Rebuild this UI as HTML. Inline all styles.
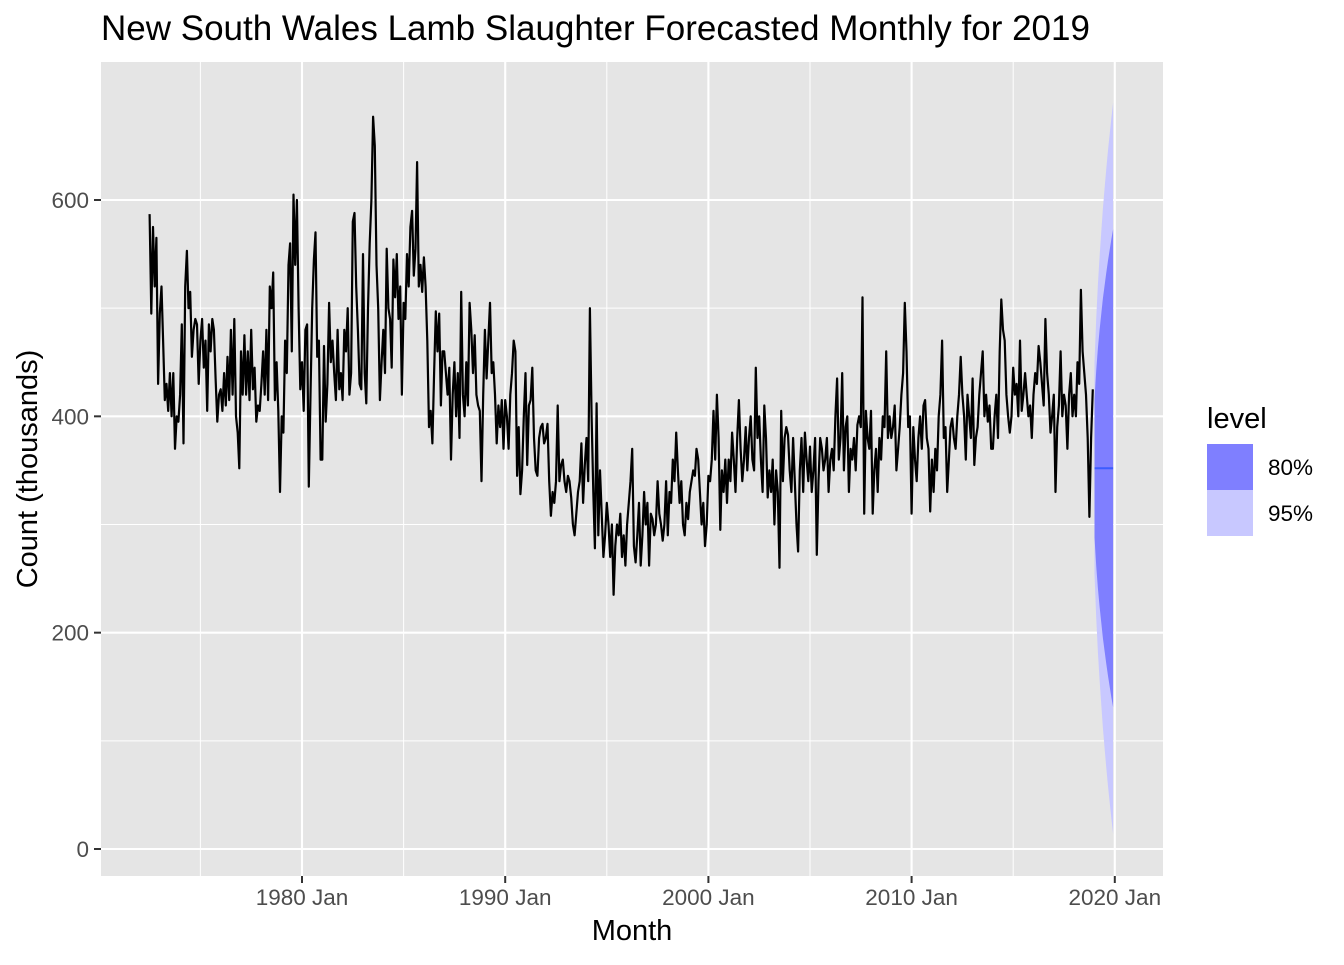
<!DOCTYPE html>
<html><head><meta charset="utf-8"><style>
body{margin:0;background:#fff;}
svg text{font-family:"Liberation Sans",Arial,sans-serif;}
</style></head><body>
<svg id="chart" width="1344" height="960" xmlns="http://www.w3.org/2000/svg">
<text x="101" y="40" font-size="35" fill="#000">New South Wales Lamb Slaughter Forecasted Monthly for 2019</text>
<rect x="101" y="62" width="1062" height="814" fill="#e5e5e5"/>
<g id="grid"></g><g id="bands"></g><g id="series"></g><g id="axes"></g>
<text x="632" y="940" font-size="29" text-anchor="middle" fill="#000">Month</text>
<text transform="translate(37,469) rotate(-90)" font-size="29" text-anchor="middle" fill="#000">Count (thousands)</text>
<g>
<text x="1207" y="428" font-size="29" fill="#000">level</text>
<rect x="1207" y="444" width="46" height="46" fill="#7f7fff"/>
<rect x="1207" y="490" width="46" height="46" fill="#c8c8ff"/>
<text x="1268" y="475" font-size="22.5" fill="#000">80%</text>
<text x="1268" y="521" font-size="22.5" fill="#000">95%</text>
</g>
</svg>
<script>
const startYear = 1972, startMonth = 6;
const counts = [
587,495,575,520,565,430,
495,520,470,415,430,405,440,400,440,370,400,395,
420,485,375,520,553,500,515,455,480,490,485,430,
470,490,445,470,405,485,460,490,480,435,395,420,
425,405,440,410,455,415,480,420,490,400,385,352,
460,420,475,420,460,415,480,425,445,395,410,405,
430,460,420,480,415,520,500,533,415,450,405,330,
400,385,470,440,540,560,460,605,540,600,500,425,
450,405,480,485,335,420,500,545,570,455,470,360,
360,465,395,430,505,450,470,440,415,480,425,440,
415,480,460,500,420,440,580,588,520,480,430,425,
550,440,412,500,560,600,677,650,540,500,415,450,
480,440,555,500,490,445,545,510,550,490,520,420,
505,490,550,520,575,590,530,555,635,520,540,515,
547,520,470,390,405,375,440,497,460,495,410,460,
460,440,420,445,360,420,450,400,440,380,515,420,
400,450,410,505,480,440,475,420,410,405,340,420,
480,435,470,505,440,450,420,375,410,390,415,370,
415,400,370,420,440,470,460,345,390,328,350,400,
440,355,410,415,445,380,350,345,380,390,393,375,
380,393,340,308,330,320,340,410,340,355,360,340,
330,345,340,325,300,290,310,330,340,375,320,355,
380,340,500,400,330,278,412,290,350,310,270,290,
320,300,270,300,235,280,300,290,310,270,290,262,
300,320,340,370,280,265,290,320,262,290,330,300,
320,262,310,305,290,300,340,310,300,285,300,340,
290,330,320,360,340,385,350,320,340,300,290,320,
305,330,340,350,345,370,360,330,300,320,280,300,
345,340,360,405,360,420,380,295,350,330,360,320,
360,340,385,360,330,380,415,370,340,360,390,350,
380,400,360,350,445,380,400,360,330,410,380,325,
350,330,360,300,350,330,260,405,340,380,390,383,
350,330,380,340,300,275,350,380,330,385,360,340,
372,330,350,380,272,340,380,370,350,360,380,330,
360,370,350,400,435,360,380,440,350,390,400,330,
370,360,380,350,392,400,390,510,310,405,380,370,
405,310,350,370,330,380,360,400,390,460,380,400,
380,390,410,350,370,390,420,440,505,460,390,400,
310,390,360,340,380,400,370,410,415,380,370,312,
360,330,370,350,400,420,470,380,390,330,360,390,
398,380,370,400,420,455,420,400,360,420,400,380,
435,355,380,390,420,440,460,400,420,395,410,370,
370,400,420,380,460,508,480,470,420,400,385,400,
445,420,430,400,470,405,420,440,420,400,410,380,
420,440,430,465,450,430,410,490,440,420,385,400,
420,330,390,410,460,400,420,410,370,420,440,400,
420,400,450,430,517,460,440,420,380,307,380,425
];
const fcMean = [352,352,352,352,352,352,352,352,352,352,352,352];
const hi80 = [416,442,463,480,495,509,521,533,544,554,564,573];
const lo80 = [288,262,241,224,209,195,183,171,160,150,140,131];
const hi95 = [450,490,522,548,571,592,611,629,646,661,676,690];
const lo95 = [254,214,182,156,133,112,93,75,58,43,28,14];
const yTicks = [0,200,400,600];
const yMinor = [100,300,500];
const xTickYears = [1980,1990,2000,2010,2020];
const xMinorYears = [1975,1985,1995,2005,2015];

const NS='http://www.w3.org/2000/svg';
const X0=302, PXM=203.2/120;
function xM(idx){ return X0 + idx*PXM; }
function xYear(y){ return xM((y-1980)*12); }
function yV(v){ return 849 - v*(649/600); }
function mk(tag,attrs,parent){const e=document.createElementNS(NS,tag);for(const k in attrs)e.setAttribute(k,attrs[k]);parent.appendChild(e);return e;}
const grid=document.getElementById('grid'), axes=document.getElementById('axes');
yMinor.forEach(v=>{const l=mk('line',{x1:101,x2:1163,y1:yV(v),y2:yV(v),stroke:'#fff','stroke-width':1},grid);

});
xMinorYears.forEach(y=>{const l=mk('line',{x1:xYear(y),x2:xYear(y),y1:62,y2:876,stroke:'#fff','stroke-width':1},grid);

});
yTicks.forEach(v=>{const l=mk('line',{x1:101,x2:1163,y1:yV(v),y2:yV(v),stroke:'#fff','stroke-width':2.1},grid);


const t=mk('line',{x1:94,x2:101,y1:yV(v),y2:yV(v),stroke:'#333','stroke-width':2},axes);


const tx=mk('text',{x:89,y:yV(v)+8,'font-size':22.5,'text-anchor':'end',fill:'#4d4d4d'},axes);tx.textContent=v;

});
xTickYears.forEach(y=>{const x=xYear(y);const l=mk('line',{x1:x,x2:x,y1:62,y2:876,stroke:'#fff','stroke-width':2.1},grid);


const t=mk('line',{x1:x,x2:x,y1:876,y2:883,stroke:'#333','stroke-width':2},axes);


const tx=mk('text',{x:x,y:905,'font-size':22.5,'text-anchor':'middle',fill:'#4d4d4d'},axes);tx.textContent=y+' Jan';

});
const off=(startYear-1980)*12+startMonth;
const pts=counts.map((v,i)=>xM(off+i).toFixed(1)+','+yV(v).toFixed(1)).join(' ');
const line=mk('polyline',{points:pts,fill:'none',stroke:'#000','stroke-width':2.2,'stroke-linejoin':'round'},document.getElementById('series'));


const fOff=off+counts.length;
function band(hi,lo,color,name){
  const up=hi.map((v,i)=>xM(fOff+i).toFixed(1)+','+yV(v).toFixed(1));
  const dn=lo.map((v,i)=>xM(fOff+i).toFixed(1)+','+yV(v).toFixed(1)).reverse();
  const p=mk('polygon',{points:up.concat(dn).join(' '),fill:color},document.getElementById('bands'));
  
  
}
band(hi95,lo95,'#c8c8ff','forecast-band-95');
band(hi80,lo80,'#7f7fff','forecast-band-80');
const fl=mk('polyline',{points:fcMean.map((v,i)=>xM(fOff+i).toFixed(1)+','+yV(v).toFixed(1)).join(' '),fill:'none',stroke:'#3c5cff','stroke-width':2},document.getElementById('series'));


</script>
</body></html>
